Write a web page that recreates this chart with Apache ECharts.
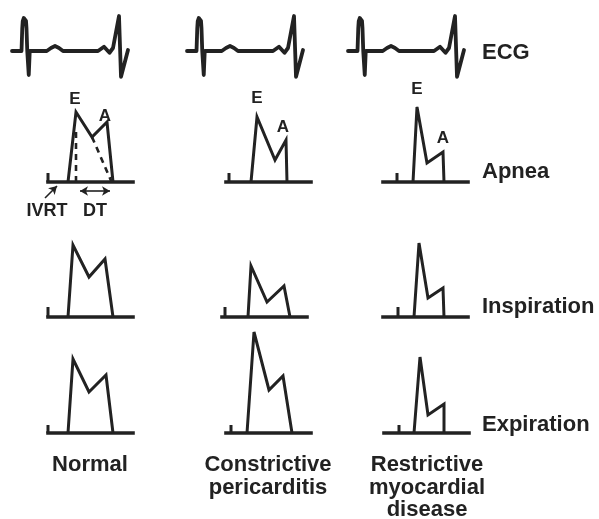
<!DOCTYPE html>
<html><head><meta charset="utf-8">
<script src="https://cdn.jsdelivr.net/npm/echarts@6/dist/echarts.min.js"></script>
<style>html,body{margin:0;padding:0;background:#fff}#c{width:599px;height:519px}</style>
</head><body><div id="c"></div>
<script>
// ---- data ----
const columns = ['Normal', 'Constrictive\npericarditis', 'Restrictive\nmyocardial\ndisease'];
const rows = ['ECG', 'Apnea', 'Inspiration', 'Expiration'];

// ECG trace (ms, mV)
const ecgTime = [0, 76, 82, 86, 94, 104, 112, 116, 122, 134, 142, 278, 312, 344, 376, 408, 688, 736, 780, 808, 856, 872, 928];
const ecgVolt = [0, 0, 0.9, 1.2, 1.32, 1.32, 1.2, 0.9, 0, -0.96, 0, 0, 0.12, 0.2, 0.12, 0, 0, 0.17, -0.07, 0.12, 1.4, -1.03, 0.04];

// Mitral inflow Doppler [time ms, velocity cm/s]: onset, E peak, notch, A peak, end
const normalApnea = [[100, 0], [140, 70], [220, 45], [295, 60], [325, 0]];
const normalInspiration = [[100, 0], [125, 72], [205, 40], [285, 58], [325, 0]];
const normalExpiration = [[100, 0], [125, 74], [205, 41], [290, 58], [325, 0]];
const constrictiveApnea = [[125, 0], [155, 65], [245, 22], [300, 42], [305, 0]];
const constrictiveInspiration = [[130, 0], [145, 51], [225, 15], [310, 31], [340, 0]];
const constrictiveExpiration = [[105, 0], [140, 101], [215, 43], [285, 57], [330, 0]];
const restrictiveApnea = [[150, 0], [170, 75], [220, 19], [300, 30], [305, 0]];
const restrictiveInspiration = [[155, 0], [180, 74], [225, 19], [300, 29], [305, 0]];
const restrictiveExpiration = [[150, 0], [180, 76], [220, 18], [300, 29], [300, 0]];

// valve-closure tick (time ms, height cm/s) per column / row
const tickTime = [[0, 0, 0], [15, 15, 25], [70, 75, 75]];
const tickHeight = [[9, 10, 8], [9, 10, 8], [9, 10, 8]];
const baselineSpan = [[0, 0], [425, 0]];

// annotations in normal apnea
const decelExtrap = [[220, 45], [318, 0]];
const ivrtMark = [[140, 0], [140, 52]];
const dtArrow = [[160, -9], [310, -9]];
const ivrtArrow = [[-15, -16], [45, -4]];

// ---- layout ----
const waves = [
  [normalApnea, normalInspiration, normalExpiration],
  [constrictiveApnea, constrictiveInspiration, constrictiveExpiration],
  [restrictiveApnea, restrictiveInspiration, restrictiveExpiration]
];
const panelLeft = [[48, 48, 48], [226, 222, 226], [383, 383, 384]];
const rowBase = [182, 317, 433];
const ecgLeft = [12, 187, 348];
const ecgBase = 51;
const labelOffsetE = [[-1, -13], [0, -19], [0, -18]];
const labelOffsetA = [[-2, -6], [-3, -13], [0, -14]];
const INK = '#222';
const FONT = '"Liberation Sans", Arial, sans-serif';

const grid = [], xAxis = [], yAxis = [], series = [];
function addGrid(g, xr, yr) {
  grid.push(Object.assign({ show: false }, g));
  const i = grid.length - 1;
  xAxis.push({ type: 'value', gridIndex: i, min: xr[0], max: xr[1], show: false });
  yAxis.push({ type: 'value', gridIndex: i, min: yr[0], max: yr[1], show: false });
  return i;
}
function line(idx, data, width, extra) {
  series.push(Object.assign({
    type: 'line', xAxisIndex: idx, yAxisIndex: idx, data: data,
    symbol: 'none', clip: false, silent: true, animation: false,
    lineStyle: { color: INK, width: width, join: 'miter', miterLimit: 6 }
  }, extra || {}));
}

// ECG panels
for (let c = 0; c < 3; c++) {
  const i = addGrid({ left: ecgLeft[c], top: ecgBase - 1.6 * 25, width: 930 / 8, height: 3.0 * 25 }, [0, 930], [-1.4, 1.6]);
  line(i, ecgTime.map((t, k) => [t, ecgVolt[k]]), 3.8, { lineStyle: { color: INK, width: 3.8, join: 'round', cap: 'round' } });
}

// Doppler panels
for (let c = 0; c < 3; c++) {
  for (let r = 0; r < 3; r++) {
    const i = addGrid({ left: panelLeft[c][r] - 10, top: rowBase[r] - 110, width: 100, height: 140 }, [-50, 450], [-30, 110]);
    line(i, baselineSpan, 3.6, { lineStyle: { color: INK, width: 3.6, cap: 'square' } });
    line(i, [[tickTime[c][r], 0], [tickTime[c][r], tickHeight[c][r]]], 3);
    line(i, waves[c][r], 3);
    if (r === 0) {
      const w = waves[c][r];
      const lbl = { show: true, position: 'inside', color: INK, fontFamily: FONT, fontWeight: 'bold', fontSize: 17, textBorderWidth: 0 };
      series.push({
        type: 'scatter', xAxisIndex: i, yAxisIndex: i, silent: true, animation: false,
        symbol: 'circle', symbolSize: 1, itemStyle: { color: INK, opacity: 1 },
        data: [
          { value: w[1], label: Object.assign({}, lbl, { formatter: 'E', offset: labelOffsetE[c] }) },
          { value: w[3], label: Object.assign({}, lbl, { formatter: 'A', offset: labelOffsetA[c] }) }
        ],
        label: lbl
      });
    }
    if (c === 0 && r === 0) {
      line(i, decelExtrap, 2.6, { lineStyle: { color: INK, width: 2.6, type: [6, 5] } });
      line(i, ivrtMark, 2.6, { lineStyle: { color: INK, width: 2.6, type: [6, 5] } });
      series.push({
        type: 'line', xAxisIndex: i, yAxisIndex: i, data: [], silent: true, animation: false,
        markLine: {
          silent: true, animation: false, symbolSize: [7, 8],
          label: { show: false },
          lineStyle: { color: INK, width: 1.6, type: 'solid' },
          data: [
            [{ coord: dtArrow[0], symbol: 'arrow' }, { coord: dtArrow[1], symbol: 'arrow' }],
            [{ coord: ivrtArrow[0], symbol: 'none' }, { coord: ivrtArrow[1], symbol: 'arrow' }]
          ]
        }
      });
    }
  }
}

// ---- text ----
const graphic = [];
const rowLabelY = [53, 172, 307, 425];
rows.forEach((t, k) => graphic.push({
  type: 'text', x: 482, y: rowLabelY[k], silent: true,
  style: { text: t, fill: INK, font: 'bold 22px ' + FONT, textAlign: 'left', textVerticalAlign: 'middle' }
}));
const colLabelX = [90, 268, 427];
columns.forEach((t, k) => graphic.push({
  type: 'text', x: colLabelX[k], y: 454, silent: true,
  style: { text: t, fill: INK, font: 'bold 22px ' + FONT, lineHeight: 22.5, textAlign: 'center', textVerticalAlign: 'top' }
}));
graphic.push({ type: 'text', x: 47, y: 211, silent: true,
  style: { text: 'IVRT', fill: INK, font: 'bold 18px ' + FONT, textAlign: 'center', textVerticalAlign: 'middle' } });
graphic.push({ type: 'text', x: 95, y: 211, silent: true,
  style: { text: 'DT', fill: INK, font: 'bold 18px ' + FONT, textAlign: 'center', textVerticalAlign: 'middle' } });

const chart = echarts.init(document.getElementById('c'), null, { renderer: 'canvas' });
chart.setOption({ backgroundColor: '#fff', animation: false, grid, xAxis, yAxis, series, graphic });
</script></body></html>
